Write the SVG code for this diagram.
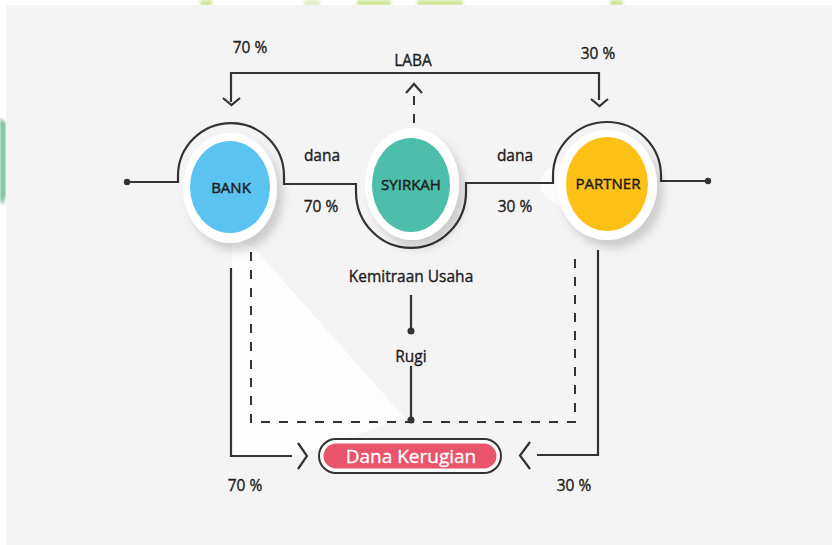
<svg xmlns="http://www.w3.org/2000/svg" width="832" height="545" viewBox="0 0 832 545">
<defs>
<style>
.ln{fill:none;stroke:#363132;stroke-width:2.2;stroke-linejoin:miter}
.dash{fill:none;stroke:#363132;stroke-width:2;stroke-dasharray:9 9}
.t{font-family:"Open Sans",Lato,sans-serif;fill:#1e1b1c;stroke:#1e1b1c;stroke-width:0.35;font-size:15.5px;text-anchor:middle}
.nt{font-family:"Open Sans",Lato,sans-serif;fill:#1e1b1c;stroke:#1e1b1c;stroke-width:0.45;font-size:15px;text-anchor:middle}
.ring{fill:#ffffff}
</style>
<filter id="sh" x="-40%" y="-40%" width="180%" height="180%">
<feDropShadow dx="6" dy="8" stdDeviation="4" flood-color="#000" flood-opacity="0.16"/>
</filter>
<filter id="bl" x="-50%" y="-50%" width="200%" height="200%"><feGaussianBlur stdDeviation="1.5"/></filter>
</defs>
<rect width="832" height="545" fill="#ffffff"/>
<g id="watermark" fill="#cfe59a" filter="url(#bl)">
<rect x="200" y="0" width="12" height="6"/>
<rect x="304" y="0" width="16" height="6" fill="#e3eec4"/>
<rect x="357" y="0" width="34" height="6"/>
<rect x="417" y="0" width="46" height="6"/>
<rect x="610" y="0" width="13" height="6"/>
<path d="M0,118 L6,123 L6,195 L3,205 L0,200 Z" fill="#7fc3a0"/>
</g>
<rect x="6" y="5" width="826" height="540" fill="#f4f4f4"/>
<path d="M232,236 L256,250 L405,418 L292,457 L232,457 Z" fill="#fdfdfd"/>
<ellipse cx="588" cy="184" rx="48" ry="27" fill="#fcfcfc"/>

<g id="connectors">
<path class="ln" d="M231,102 V73 H599 V100"/>
<path class="ln" d="M223,98 L231.5,105 L240,98"/>
<path class="ln" d="M591,99 L599.5,106 L608,99"/>
<path class="ln" d="M406,93 L414,84 L422,93"/>
<path class="dash" d="M414,96 V124" stroke-dasharray="8 8"/>
<path class="ln" d="M127,182 H178 V176 A53,53 0 0 1 284,176 V184 H356 V192 A55,56 0 0 0 466,192 V183 H553 V176 A54,54 0 0 1 661,176 V181 H708"/>
<circle cx="127" cy="182" r="3.2" fill="#363132"/>
<circle cx="708" cy="181" r="3.2" fill="#363132"/>
<path class="dash" d="M251,252 V422 H575 V252"/>
<path class="ln" d="M411,295 V331"/>
<circle cx="411" cy="331" r="3.5" fill="#363132"/>
<path class="ln" d="M411,366 V420"/>
<circle cx="411" cy="420" r="3.5" fill="#363132"/>
<path class="ln" d="M231,268 V456 H292"/>
<path class="ln" d="M298,443 L307,456 L298,469"/>
<path class="ln" d="M598,250 V455 H537"/>
<path class="ln" d="M530,442 L520,455.5 L530,469"/>
</g>

<g id="bank">
<ellipse class="ring" cx="230" cy="188" rx="47" ry="55" filter="url(#sh)"/>
<ellipse cx="230" cy="187" rx="40" ry="46" fill="#5bc3f0"/>
<text class="nt" x="231" y="193">BANK</text>
</g>
<g id="syirkah">
<ellipse class="ring" cx="412" cy="184" rx="47" ry="56" filter="url(#sh)"/>
<ellipse cx="411" cy="185" rx="39" ry="47" fill="#4dbea9"/>
<text class="nt" x="411" y="190">SYIRKAH</text>
</g>
<g id="partner">
<ellipse class="ring" cx="607" cy="185" rx="50" ry="55" filter="url(#sh)"/>
<ellipse cx="607" cy="184" rx="41" ry="47" fill="#fdc017"/>
<text class="nt" x="608" y="189">PARTNER</text>
</g>
<g id="dana-kerugian">
<rect x="319" y="439" width="182" height="34" rx="17" fill="#ffffff" stroke="#363132" stroke-width="2"/>
<rect x="323.5" y="443.5" width="173" height="25" rx="12.5" fill="#e9546b"/>
<text x="411" y="463" font-family="'Open Sans',Lato,sans-serif" font-size="19" fill="#ffffff" stroke="#ffffff" stroke-width="0.3" text-anchor="middle">Dana Kerugian</text>
</g>

<g id="labels">
<text class="t" x="250" y="53">70 %</text>
<text class="t" x="413" y="66">LABA</text>
<text class="t" x="598" y="59">30 %</text>
<text class="t" x="322" y="161">dana</text>
<text class="t" x="321" y="212">70 %</text>
<text class="t" x="515" y="161">dana</text>
<text class="t" x="515" y="212">30 %</text>
<text class="t" x="411" y="282">Kemitraan Usaha</text>
<text class="t" x="411" y="362">Rugi</text>
<text class="t" x="245" y="491">70 %</text>
<text class="t" x="574" y="491">30 %</text>
</g>
</svg>
